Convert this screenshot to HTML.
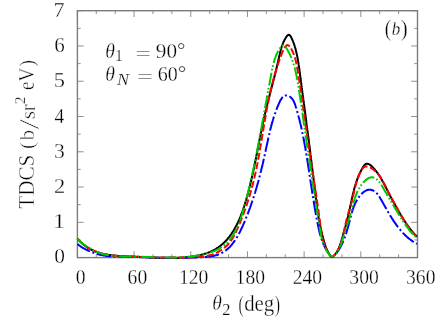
<!DOCTYPE html>
<html><head><meta charset="utf-8"><title>plot</title><style>
html,body{margin:0;padding:0;background:#fff;overflow:hidden;}
svg{display:block;}
svg{stroke-width:0.3px;}
text{font-family:"Liberation Serif",serif;font-size:20.0px;fill:#000;stroke:#fff;}
</style></head><body>
<svg width="436" height="319" viewBox="0 0 436 319">
<rect width="436" height="319" fill="#fff"/>
<g stroke="#7c7c7c" stroke-width="1.4" fill="none">
<rect x="77.4" y="10.7" width="340.10" height="246.90"/>
<path d="M77.40,257.6v-6.3M77.40,10.7v6.3M96.29,257.6v-3.3M96.29,10.7v3.3M115.19,257.6v-3.3M115.19,10.7v3.3M134.08,257.6v-6.3M134.08,10.7v6.3M152.98,257.6v-3.3M152.98,10.7v3.3M171.87,257.6v-3.3M171.87,10.7v3.3M190.77,257.6v-6.3M190.77,10.7v6.3M209.66,257.6v-3.3M209.66,10.7v3.3M228.56,257.6v-3.3M228.56,10.7v3.3M247.45,257.6v-6.3M247.45,10.7v6.3M266.34,257.6v-3.3M266.34,10.7v3.3M285.24,257.6v-3.3M285.24,10.7v3.3M304.13,257.6v-6.3M304.13,10.7v6.3M323.03,257.6v-3.3M323.03,10.7v3.3M341.92,257.6v-3.3M341.92,10.7v3.3M360.82,257.6v-6.3M360.82,10.7v6.3M379.71,257.6v-3.3M379.71,10.7v3.3M398.61,257.6v-3.3M398.61,10.7v3.3M417.50,257.6v-6.3M417.50,10.7v6.3M77.4,257.60h6.3M417.5,257.60h-6.3M77.4,239.96h3.3M417.5,239.96h-3.3M77.4,222.33h6.3M417.5,222.33h-6.3M77.4,204.69h3.3M417.5,204.69h-3.3M77.4,187.06h6.3M417.5,187.06h-6.3M77.4,169.42h3.3M417.5,169.42h-3.3M77.4,151.79h6.3M417.5,151.79h-6.3M77.4,134.15h3.3M417.5,134.15h-3.3M77.4,116.51h6.3M417.5,116.51h-6.3M77.4,98.88h3.3M417.5,98.88h-3.3M77.4,81.24h6.3M417.5,81.24h-6.3M77.4,63.61h3.3M417.5,63.61h-3.3M77.4,45.97h6.3M417.5,45.97h-6.3M77.4,28.34h3.3M417.5,28.34h-3.3M77.4,10.70h6.3M417.5,10.70h-6.3" stroke-width="0.85"/>
</g>
<g fill="none" stroke-width="2">
<path d="M77.5,238.6 L78.3,239.6 L79.1,240.5 L79.9,241.4 L80.8,242.2 L81.7,243.0 L82.5,243.8 L83.4,244.6 L84.3,245.3 L85.2,246.0 L86.2,246.7 L87.1,247.3 L88.0,247.9 L89.0,248.5 L90.0,249.0 L91.0,249.5 L91.9,250.0 L93.0,250.5 L94.0,250.9 L95.0,251.4 L96.0,251.7 L97.1,252.1 L98.1,252.5 L99.2,252.8 L100.2,253.1 L101.3,253.4 L102.4,253.7 L103.5,253.9 L104.6,254.2 L105.7,254.4 L106.8,254.6 L107.9,254.8 L109.0,255.0 L110.1,255.1 L111.3,255.3 L112.4,255.4 L113.5,255.5 L114.7,255.6 L115.8,255.7 L117.0,255.8 L118.1,255.9 L119.3,256.0 L120.4,256.1 L121.6,256.1 L122.7,256.2 L123.9,256.2 L125.0,256.3 L126.2,256.3 L127.4,256.4 L128.5,256.4 L129.7,256.5 L130.8,256.5 L132.0,256.5 L133.2,256.6 L134.3,256.6 L135.5,256.7 L136.6,256.7 L137.8,256.8 L138.9,256.8 L140.0,256.9 L141.2,256.9 L142.3,257.0 L143.5,257.1 L144.6,257.1 L145.7,257.2 L146.9,257.3 L148.0,257.3 L149.1,257.4 L150.3,257.4 L151.4,257.5 L152.5,257.6 L153.6,257.6 L154.8,257.7 L155.9,257.7 L157.0,257.8 L158.1,257.8 L159.3,257.9 L160.4,257.9 L161.5,258.0 L162.6,258.0 L163.8,258.0 L164.9,258.1 L166.0,258.1 L167.1,258.1 L168.3,258.1 L169.4,258.1 L170.5,258.1 L171.6,258.1 L172.8,258.1 L173.9,258.1 L175.0,258.0 L176.1,258.0 L177.3,258.0 L178.4,257.9 L179.5,257.9 L180.7,257.8 L181.8,257.7 L183.0,257.6 L184.1,257.5 L185.2,257.4 L186.4,257.3 L187.5,257.2 L188.7,257.1 L189.8,256.9 L191.0,256.8 L192.1,256.6 L193.3,256.4 L194.5,256.2 L195.6,256.0 L196.8,255.8 L197.9,255.6 L199.1,255.3 L200.2,255.0 L201.4,254.8 L202.5,254.5 L203.6,254.2 L204.7,253.8 L205.9,253.5 L207.0,253.1 L208.0,252.7 L209.1,252.3 L210.2,251.9 L211.2,251.4 L212.2,250.9 L213.2,250.4 L214.2,249.9 L215.2,249.4 L216.1,248.8 L217.0,248.2 L218.0,247.6 L218.8,247.0 L219.7,246.3 L220.6,245.7 L221.4,245.0 L222.3,244.3 L223.1,243.6 L223.9,242.8 L224.6,242.1 L225.4,241.3 L226.1,240.5 L226.9,239.7 L227.6,238.9 L228.3,238.0 L229.0,237.2 L229.7,236.3 L230.3,235.4 L231.0,234.5 L231.6,233.6 L232.2,232.6 L232.8,231.7 L233.4,230.8 L234.0,229.8 L234.6,228.8 L235.1,227.8 L235.7,226.8 L236.2,225.8 L236.8,224.8 L237.3,223.8 L237.8,222.7 L238.3,221.7 L238.7,220.6 L239.2,219.6 L239.7,218.5 L240.1,217.4 L240.6,216.3 L241.0,215.2 L241.4,214.1 L241.8,213.0 L242.3,211.9 L242.7,210.8 L243.0,209.7 L243.4,208.5 L243.8,207.4 L244.2,206.3 L244.5,205.2 L244.9,204.0 L245.3,202.9 L245.6,201.7 L245.9,200.6 L246.3,199.5 L246.6,198.3 L246.9,197.2 L247.2,196.0 L247.5,194.9 L247.9,193.8 L248.2,192.6 L248.5,191.5 L248.8,190.3 L249.0,189.2 L249.3,188.1 L249.6,186.9 L249.9,185.8 L250.2,184.7 L250.4,183.6 L250.7,182.4 L251.0,181.3 L251.2,180.2 L251.5,179.1 L251.8,178.0 L252.0,176.8 L252.3,175.7 L252.5,174.6 L252.8,173.5 L253.0,172.4 L253.2,171.3 L253.5,170.2 L253.7,169.1 L254.0,167.9 L254.2,166.8 L254.4,165.7 L254.7,164.6 L254.9,163.5 L255.1,162.4 L255.3,161.3 L255.6,160.2 L255.8,159.1 L256.0,158.0 L256.2,156.9 L256.4,155.8 L256.6,154.7 L256.9,153.6 L257.1,152.5 L257.3,151.4 L257.5,150.3 L257.7,149.2 L257.9,148.1 L258.1,147.0 L258.4,146.0 L258.6,144.9 L258.8,143.8 L259.0,142.7 L259.2,141.6 L259.4,140.5 L259.6,139.4 L259.9,138.3 L260.1,137.2 L260.3,136.1 L260.5,135.0 L260.7,134.0 L260.9,132.9 L261.2,131.8 L261.4,130.7 L261.6,129.6 L261.8,128.5 L262.0,127.4 L262.3,126.3 L262.5,125.2 L262.7,124.1 L263.0,123.1 L263.2,122.0 L263.4,120.9 L263.7,119.8 L263.9,118.7 L264.1,117.6 L264.4,116.5 L264.6,115.4 L264.9,114.3 L265.1,113.2 L265.4,112.1 L265.6,111.0 L265.9,110.0 L266.2,108.9 L266.4,107.8 L266.7,106.7 L267.0,105.6 L267.2,104.5 L267.5,103.4 L267.8,102.3 L268.1,101.2 L268.3,100.1 L268.6,99.0 L268.9,97.9 L269.2,96.8 L269.5,95.7 L269.8,94.6 L270.0,93.5 L270.3,92.4 L270.6,91.3 L270.9,90.2 L271.2,89.0 L271.5,87.9 L271.8,86.8 L272.1,85.7 L272.4,84.6 L272.6,83.5 L272.9,82.4 L273.2,81.3 L273.5,80.1 L273.8,79.0 L274.1,77.9 L274.4,76.8 L274.7,75.7 L274.9,74.5 L275.2,73.4 L275.5,72.3 L275.8,71.2 L276.1,70.0 L276.3,68.9 L276.6,67.8 L276.9,66.6 L277.1,65.5 L277.4,64.3 L277.7,63.2 L277.9,62.1 L278.2,60.9 L278.5,59.8 L278.7,58.6 L279.0,57.5 L279.2,56.3 L279.5,55.2 L279.8,54.0 L280.0,52.9 L280.3,51.8 L280.6,50.6 L280.9,49.5 L281.2,48.4 L281.5,47.3 L281.9,46.2 L282.3,45.1 L282.7,44.1 L283.1,43.0 L283.5,42.0 L284.0,41.0 L284.5,40.0 L285.1,39.0 L285.6,38.0 L286.2,37.1 L286.9,36.2 L287.5,35.4 L288.2,34.9 L288.9,34.7 L289.5,35.0 L290.1,35.6 L290.7,36.4 L291.2,37.4 L291.7,38.4 L292.2,39.5 L292.7,40.6 L293.1,41.7 L293.6,42.9 L294.0,44.0 L294.4,45.2 L294.7,46.3 L295.1,47.5 L295.4,48.6 L295.7,49.8 L296.0,50.9 L296.3,52.1 L296.6,53.2 L296.8,54.3 L297.1,55.5 L297.3,56.6 L297.5,57.7 L297.7,58.8 L297.9,60.0 L298.1,61.1 L298.3,62.2 L298.5,63.3 L298.6,64.4 L298.8,65.6 L299.0,66.7 L299.1,67.8 L299.3,68.9 L299.4,70.0 L299.6,71.1 L299.7,72.3 L299.9,73.4 L300.0,74.5 L300.2,75.6 L300.3,76.7 L300.5,77.9 L300.6,79.0 L300.8,80.1 L300.9,81.2 L301.1,82.3 L301.2,83.5 L301.4,84.6 L301.5,85.7 L301.7,86.8 L301.8,87.9 L302.0,89.1 L302.1,90.2 L302.3,91.3 L302.4,92.4 L302.6,93.6 L302.7,94.7 L302.9,95.8 L303.0,97.0 L303.2,98.1 L303.3,99.2 L303.5,100.3 L303.6,101.5 L303.8,102.6 L303.9,103.7 L304.1,104.8 L304.2,106.0 L304.4,107.1 L304.5,108.2 L304.7,109.4 L304.8,110.5 L305.0,111.6 L305.1,112.8 L305.3,113.9 L305.4,115.0 L305.6,116.1 L305.7,117.3 L305.9,118.4 L306.0,119.5 L306.2,120.7 L306.3,121.8 L306.4,122.9 L306.6,124.1 L306.7,125.2 L306.9,126.3 L307.0,127.5 L307.2,128.6 L307.3,129.7 L307.5,130.9 L307.6,132.0 L307.8,133.1 L307.9,134.3 L308.1,135.4 L308.2,136.5 L308.4,137.7 L308.5,138.8 L308.7,139.9 L308.8,141.1 L309.0,142.2 L309.1,143.3 L309.2,144.5 L309.4,145.6 L309.5,146.8 L309.7,147.9 L309.8,149.0 L310.0,150.2 L310.1,151.3 L310.3,152.4 L310.4,153.6 L310.5,154.7 L310.7,155.8 L310.8,157.0 L311.0,158.1 L311.1,159.2 L311.3,160.4 L311.4,161.5 L311.5,162.6 L311.7,163.8 L311.8,164.9 L312.0,166.0 L312.1,167.2 L312.2,168.3 L312.4,169.4 L312.5,170.6 L312.6,171.7 L312.8,172.8 L312.9,174.0 L313.1,175.1 L313.2,176.2 L313.3,177.4 L313.5,178.5 L313.6,179.6 L313.7,180.7 L313.9,181.9 L314.0,183.0 L314.1,184.1 L314.3,185.3 L314.4,186.4 L314.5,187.5 L314.7,188.7 L314.8,189.8 L315.0,190.9 L315.1,192.0 L315.2,193.2 L315.4,194.3 L315.5,195.4 L315.6,196.6 L315.8,197.7 L315.9,198.8 L316.1,199.9 L316.2,201.1 L316.4,202.2 L316.5,203.3 L316.7,204.4 L316.8,205.6 L317.0,206.7 L317.1,207.8 L317.3,208.9 L317.5,210.1 L317.6,211.2 L317.8,212.3 L318.0,213.4 L318.2,214.5 L318.4,215.7 L318.6,216.8 L318.7,217.9 L318.9,219.0 L319.1,220.1 L319.4,221.3 L319.6,222.4 L319.8,223.5 L320.0,224.6 L320.2,225.7 L320.5,226.9 L320.7,228.0 L320.9,229.1 L321.2,230.2 L321.4,231.3 L321.7,232.4 L322.0,233.5 L322.2,234.7 L322.5,235.8 L322.8,236.9 L323.1,238.0 L323.4,239.1 L323.7,240.2 L324.0,241.3 L324.3,242.4 L324.7,243.5 L325.0,244.6 L325.4,245.8 L325.8,246.9 L326.2,248.0 L326.6,249.0 L327.1,250.1 L327.6,251.2 L328.1,252.3 L328.7,253.4 L329.3,254.4 L329.9,255.3 L330.5,256.1 L331.2,256.5 L332.0,256.7 L332.8,256.5 L333.5,256.0 L334.3,255.3 L335.1,254.4 L335.9,253.4 L336.6,252.3 L337.2,251.3 L337.8,250.2 L338.4,249.1 L338.9,248.1 L339.3,247.0 L339.8,245.9 L340.1,244.8 L340.5,243.7 L340.9,242.6 L341.2,241.5 L341.5,240.4 L341.8,239.3 L342.1,238.2 L342.5,237.1 L342.8,236.0 L343.1,234.9 L343.4,233.8 L343.7,232.7 L344.0,231.6 L344.4,230.5 L344.7,229.4 L345.0,228.3 L345.3,227.2 L345.6,226.1 L345.9,225.0 L346.2,223.9 L346.5,222.8 L346.8,221.6 L347.1,220.5 L347.4,219.4 L347.6,218.3 L347.9,217.2 L348.2,216.1 L348.4,215.0 L348.7,213.9 L348.9,212.8 L349.1,211.7 L349.4,210.6 L349.6,209.5 L349.9,208.4 L350.1,207.3 L350.3,206.2 L350.5,205.1 L350.8,204.0 L351.0,202.9 L351.2,201.8 L351.5,200.7 L351.7,199.6 L351.9,198.5 L352.2,197.4 L352.4,196.3 L352.7,195.2 L352.9,194.1 L353.2,193.0 L353.5,191.9 L353.8,190.8 L354.0,189.7 L354.3,188.6 L354.6,187.5 L355.0,186.4 L355.3,185.3 L355.6,184.2 L356.0,183.1 L356.3,182.0 L356.7,180.9 L357.1,179.8 L357.5,178.7 L357.9,177.6 L358.4,176.5 L358.8,175.4 L359.3,174.4 L359.8,173.3 L360.3,172.2 L360.8,171.2 L361.3,170.1 L361.9,169.0 L362.5,168.0 L363.1,167.0 L363.7,166.1 L364.4,165.2 L365.1,164.5 L365.8,164.0 L366.6,163.7 L367.4,163.7 L368.3,163.9 L369.2,164.3 L370.1,164.9 L371.0,165.6 L371.9,166.4 L372.8,167.3 L373.7,168.3 L374.5,169.2 L375.3,170.2 L376.1,171.1 L376.8,172.1 L377.6,173.0 L378.2,174.0 L378.9,175.0 L379.5,176.0 L380.2,176.9 L380.8,177.9 L381.3,178.9 L381.9,179.9 L382.4,180.9 L383.0,181.9 L383.5,182.9 L384.0,183.9 L384.5,184.9 L385.0,185.9 L385.6,186.9 L386.1,187.9 L386.6,188.9 L387.1,189.9 L387.6,190.9 L388.1,191.9 L388.6,192.9 L389.1,193.9 L389.7,194.9 L390.2,195.9 L390.8,196.9 L391.3,198.0 L391.9,199.0 L392.4,200.0 L393.0,201.0 L393.5,202.0 L394.1,203.0 L394.6,204.0 L395.2,205.0 L395.7,206.0 L396.3,207.0 L396.9,208.0 L397.4,209.0 L398.0,210.0 L398.5,211.0 L399.1,212.0 L399.7,212.9 L400.2,213.9 L400.8,214.9 L401.4,215.9 L402.0,216.8 L402.6,217.8 L403.2,218.8 L403.7,219.7 L404.4,220.7 L405.0,221.6 L405.6,222.6 L406.2,223.5 L406.9,224.4 L407.5,225.3 L408.2,226.3 L408.8,227.2 L409.5,228.1 L410.2,229.0 L410.9,229.9 L411.6,230.8 L412.3,231.7 L413.1,232.5 L413.8,233.4 L414.6,234.3 L415.4,235.1 L416.2,236.0 L417.0,236.8" stroke="#000"/>
<path d="M77.5,244.1 L78.2,244.7 L79.0,245.2 L79.7,245.8 L80.5,246.3 L81.3,246.8 L82.0,247.3 L82.8,247.8 L83.6,248.3 L84.4,248.7 L85.2,249.2 L86.0,249.6 L86.9,250.0 L87.7,250.4 L88.5,250.8 L89.4,251.2 L90.2,251.6 L91.1,251.9 L91.9,252.3 L92.8,252.6 L93.7,252.9 L94.5,253.2 L95.4,253.5 L96.3,253.8 L97.2,254.0 L98.1,254.3 L99.0,254.5 L99.9,254.7 L100.8,254.9 L101.7,255.1 L102.6,255.3 L103.5,255.5 L104.5,255.6 L105.4,255.8 L106.3,255.9 L107.2,256.0 L108.2,256.1 L109.1,256.2 L110.0,256.3 L111.0,256.4 L111.9,256.4 L112.8,256.5 L113.8,256.5 L114.7,256.6 L115.7,256.6 L116.6,256.7 L117.5,256.7 L118.5,256.7 L119.4,256.7 L120.4,256.8 L121.3,256.8 L122.3,256.8 L123.2,256.8 L124.1,256.8 L125.1,256.8 L126.0,256.9 L126.9,256.9 L127.9,256.9 L128.8,256.9 L129.7,256.9 L130.7,256.9 L131.6,257.0 L132.5,257.0 L133.4,257.0 L134.4,257.0 L135.3,257.0 L136.2,257.1 L137.1,257.1 L138.0,257.1 L139.0,257.1 L139.9,257.1 L140.8,257.2 L141.7,257.2 L142.6,257.2 L143.6,257.2 L144.5,257.3 L145.4,257.3 L146.3,257.3 L147.2,257.3 L148.1,257.3 L149.0,257.4 L149.9,257.4 L150.9,257.4 L151.8,257.4 L152.7,257.5 L153.6,257.5 L154.5,257.5 L155.4,257.5 L156.3,257.5 L157.2,257.6 L158.2,257.6 L159.1,257.6 L160.0,257.6 L160.9,257.6 L161.8,257.6 L162.7,257.7 L163.6,257.7 L164.6,257.7 L165.5,257.7 L166.4,257.7 L167.3,257.7 L168.2,257.7 L169.1,257.7 L170.1,257.8 L171.0,257.8 L171.9,257.8 L172.8,257.8 L173.7,257.8 L174.7,257.8 L175.6,257.8 L176.5,257.8 L177.4,257.8 L178.4,257.8 L179.3,257.8 L180.2,257.8 L181.1,257.8 L182.1,257.8 L183.0,257.7 L183.9,257.7 L184.9,257.7 L185.8,257.7 L186.8,257.7 L187.7,257.7 L188.6,257.7 L189.6,257.6 L190.5,257.6 L191.5,257.6 L192.4,257.6 L193.4,257.5 L194.3,257.5 L195.3,257.5 L196.2,257.4 L197.2,257.4 L198.2,257.4 L199.1,257.3 L200.1,257.3 L201.1,257.2 L202.0,257.2 L203.0,257.1 L204.0,257.1 L204.9,257.0 L205.9,256.9 L206.8,256.8 L207.8,256.7 L208.7,256.6 L209.7,256.5 L210.6,256.4 L211.5,256.2 L212.5,256.0 L213.4,255.9 L214.3,255.7 L215.2,255.4 L216.0,255.2 L216.9,255.0 L217.8,254.7 L218.6,254.4 L219.4,254.1 L220.2,253.7 L221.0,253.3 L221.8,252.9 L222.6,252.5 L223.3,252.1 L224.1,251.6 L224.8,251.1 L225.5,250.6 L226.2,250.1 L226.9,249.6 L227.5,249.0 L228.2,248.4 L228.8,247.8 L229.5,247.2 L230.1,246.6 L230.7,245.9 L231.3,245.3 L231.8,244.6 L232.4,243.9 L233.0,243.2 L233.5,242.4 L234.1,241.7 L234.6,240.9 L235.1,240.2 L235.6,239.4 L236.1,238.6 L236.6,237.8 L237.1,237.0 L237.6,236.2 L238.1,235.4 L238.5,234.5 L239.0,233.7 L239.4,232.8 L239.9,232.0 L240.3,231.1 L240.7,230.3 L241.1,229.4 L241.5,228.5 L242.0,227.6 L242.4,226.8 L242.8,225.9 L243.1,225.0 L243.5,224.1 L243.9,223.2 L244.3,222.3 L244.7,221.4 L245.0,220.6 L245.4,219.7 L245.8,218.8 L246.1,217.9 L246.5,217.0 L246.8,216.1 L247.2,215.2 L247.5,214.3 L247.9,213.5 L248.2,212.6 L248.5,211.7 L248.9,210.8 L249.2,209.9 L249.5,209.0 L249.9,208.1 L250.2,207.3 L250.5,206.4 L250.8,205.5 L251.1,204.6 L251.4,203.7 L251.7,202.8 L252.0,202.0 L252.3,201.1 L252.6,200.2 L252.9,199.3 L253.2,198.4 L253.5,197.5 L253.8,196.7 L254.1,195.8 L254.3,194.9 L254.6,194.0 L254.9,193.1 L255.2,192.3 L255.4,191.4 L255.7,190.5 L256.0,189.6 L256.2,188.7 L256.5,187.8 L256.7,187.0 L257.0,186.1 L257.2,185.2 L257.5,184.3 L257.7,183.4 L258.0,182.5 L258.2,181.7 L258.5,180.8 L258.7,179.9 L258.9,179.0 L259.2,178.1 L259.4,177.2 L259.6,176.4 L259.9,175.5 L260.1,174.6 L260.3,173.7 L260.5,172.8 L260.8,171.9 L261.0,171.0 L261.2,170.2 L261.4,169.3 L261.6,168.4 L261.8,167.5 L262.1,166.6 L262.3,165.7 L262.5,164.8 L262.7,164.0 L262.9,163.1 L263.1,162.2 L263.3,161.3 L263.5,160.4 L263.7,159.5 L263.9,158.6 L264.1,157.7 L264.3,156.8 L264.5,155.9 L264.7,155.0 L264.9,154.2 L265.1,153.3 L265.3,152.4 L265.5,151.5 L265.7,150.6 L265.8,149.7 L266.0,148.8 L266.2,147.9 L266.4,147.0 L266.6,146.1 L266.8,145.2 L267.0,144.3 L267.2,143.4 L267.4,142.5 L267.6,141.6 L267.8,140.7 L268.0,139.8 L268.1,138.9 L268.3,138.0 L268.5,137.1 L268.8,136.2 L269.0,135.3 L269.2,134.4 L269.4,133.5 L269.6,132.6 L269.8,131.7 L270.0,130.8 L270.2,129.8 L270.5,128.9 L270.7,128.0 L270.9,127.1 L271.2,126.2 L271.4,125.3 L271.7,124.4 L271.9,123.5 L272.2,122.6 L272.4,121.7 L272.7,120.8 L273.0,119.8 L273.2,118.9 L273.5,118.0 L273.8,117.1 L274.1,116.2 L274.4,115.3 L274.7,114.4 L275.0,113.5 L275.4,112.5 L275.7,111.6 L276.0,110.7 L276.4,109.8 L276.7,108.9 L277.1,108.0 L277.4,107.0 L277.8,106.1 L278.2,105.2 L278.6,104.3 L279.0,103.4 L279.4,102.5 L279.8,101.6 L280.2,100.7 L280.7,99.8 L281.2,99.1 L281.7,98.3 L282.2,97.6 L282.7,97.0 L283.3,96.5 L283.9,96.1 L284.5,95.7 L285.1,95.5 L285.8,95.4 L286.6,95.4 L287.3,95.5 L288.1,95.7 L288.9,96.1 L289.6,96.5 L290.4,97.0 L291.0,97.6 L291.6,98.2 L292.2,98.9 L292.7,99.5 L293.1,100.3 L293.6,101.0 L293.9,101.8 L294.3,102.6 L294.6,103.5 L295.0,104.4 L295.3,105.2 L295.6,106.2 L295.9,107.1 L296.2,108.0 L296.5,109.0 L296.8,109.9 L297.0,110.9 L297.3,111.9 L297.6,112.9 L297.9,113.8 L298.1,114.8 L298.4,115.8 L298.6,116.7 L298.9,117.6 L299.1,118.6 L299.4,119.5 L299.6,120.4 L299.8,121.3 L300.0,122.3 L300.3,123.2 L300.5,124.1 L300.7,125.0 L300.9,125.8 L301.1,126.7 L301.3,127.6 L301.5,128.5 L301.7,129.4 L301.9,130.3 L302.1,131.2 L302.2,132.0 L302.4,132.9 L302.6,133.8 L302.8,134.7 L303.0,135.6 L303.2,136.5 L303.3,137.4 L303.5,138.3 L303.7,139.2 L303.8,140.1 L304.0,140.9 L304.2,141.8 L304.3,142.7 L304.5,143.6 L304.7,144.5 L304.8,145.4 L305.0,146.3 L305.2,147.2 L305.3,148.1 L305.5,149.0 L305.6,150.0 L305.8,150.9 L305.9,151.8 L306.1,152.7 L306.2,153.6 L306.4,154.5 L306.5,155.4 L306.7,156.3 L306.8,157.2 L307.0,158.1 L307.1,159.0 L307.3,160.0 L307.4,160.9 L307.6,161.8 L307.7,162.7 L307.9,163.6 L308.0,164.5 L308.1,165.4 L308.3,166.4 L308.4,167.3 L308.6,168.2 L308.7,169.1 L308.9,170.0 L309.0,170.9 L309.1,171.9 L309.3,172.8 L309.4,173.7 L309.5,174.6 L309.7,175.6 L309.8,176.5 L310.0,177.4 L310.1,178.3 L310.2,179.2 L310.4,180.2 L310.5,181.1 L310.7,182.0 L310.8,182.9 L310.9,183.9 L311.1,184.8 L311.2,185.7 L311.4,186.6 L311.5,187.5 L311.6,188.5 L311.8,189.4 L311.9,190.3 L312.1,191.2 L312.2,192.2 L312.3,193.1 L312.5,194.0 L312.6,194.9 L312.8,195.9 L312.9,196.8 L313.1,197.7 L313.2,198.6 L313.4,199.6 L313.5,200.5 L313.7,201.4 L313.8,202.3 L314.0,203.3 L314.1,204.2 L314.3,205.1 L314.4,206.0 L314.6,207.0 L314.7,207.9 L314.9,208.8 L315.1,209.7 L315.2,210.6 L315.4,211.6 L315.6,212.5 L315.7,213.4 L315.9,214.3 L316.1,215.3 L316.2,216.2 L316.4,217.1 L316.6,218.0 L316.7,218.9 L316.9,219.8 L317.1,220.8 L317.3,221.7 L317.5,222.6 L317.6,223.5 L317.8,224.4 L318.0,225.3 L318.2,226.3 L318.4,227.2 L318.6,228.1 L318.8,229.0 L319.0,229.9 L319.2,230.8 L319.4,231.7 L319.6,232.6 L319.9,233.5 L320.1,234.4 L320.4,235.3 L320.6,236.2 L320.9,237.1 L321.2,238.0 L321.5,238.9 L321.8,239.7 L322.1,240.6 L322.4,241.5 L322.7,242.4 L323.1,243.2 L323.4,244.1 L323.8,244.9 L324.2,245.8 L324.6,246.6 L325.0,247.5 L325.5,248.3 L326.0,249.1 L326.4,250.0 L326.9,250.8 L327.5,251.6 L328.0,252.4 L328.5,253.2 L329.1,253.9 L329.7,254.6 L330.3,255.3 L330.9,255.7 L331.6,256.1 L332.2,256.2 L332.8,256.2 L333.5,256.0 L334.1,255.6 L334.7,255.1 L335.3,254.5 L335.9,253.8 L336.5,253.0 L337.1,252.3 L337.6,251.5 L338.2,250.7 L338.7,249.9 L339.2,249.1 L339.7,248.3 L340.2,247.5 L340.6,246.7 L341.1,245.9 L341.5,245.0 L341.9,244.2 L342.3,243.3 L342.7,242.5 L343.1,241.6 L343.5,240.8 L343.8,239.9 L344.2,239.0 L344.5,238.1 L344.8,237.2 L345.2,236.4 L345.5,235.5 L345.8,234.6 L346.1,233.7 L346.4,232.8 L346.6,231.9 L346.9,230.9 L347.2,230.0 L347.5,229.1 L347.7,228.2 L348.0,227.3 L348.2,226.4 L348.5,225.5 L348.7,224.5 L348.9,223.6 L349.2,222.7 L349.4,221.8 L349.7,220.9 L349.9,220.0 L350.1,219.1 L350.4,218.2 L350.6,217.3 L350.8,216.4 L351.1,215.5 L351.3,214.6 L351.5,213.7 L351.8,212.8 L352.0,211.9 L352.3,211.0 L352.6,210.1 L352.9,209.3 L353.2,208.4 L353.5,207.5 L353.8,206.7 L354.1,205.8 L354.5,205.0 L354.8,204.2 L355.2,203.3 L355.6,202.5 L356.0,201.7 L356.5,200.9 L356.9,200.1 L357.4,199.3 L357.9,198.5 L358.4,197.7 L359.0,196.9 L359.6,196.2 L360.2,195.4 L360.9,194.7 L361.5,194.0 L362.2,193.3 L362.9,192.7 L363.6,192.1 L364.4,191.5 L365.2,191.0 L365.9,190.6 L366.7,190.3 L367.5,190.0 L368.3,189.8 L369.2,189.7 L370.0,189.7 L370.8,189.8 L371.6,190.0 L372.5,190.3 L373.3,190.7 L374.1,191.1 L374.8,191.6 L375.6,192.2 L376.3,192.8 L377.0,193.5 L377.6,194.2 L378.2,195.0 L378.7,195.8 L379.3,196.6 L379.8,197.4 L380.2,198.2 L380.7,199.1 L381.2,199.9 L381.7,200.7 L382.2,201.5 L382.6,202.4 L383.1,203.2 L383.6,204.0 L384.0,204.8 L384.5,205.7 L385.0,206.5 L385.4,207.3 L385.9,208.1 L386.4,209.0 L386.8,209.8 L387.3,210.6 L387.8,211.4 L388.2,212.2 L388.7,213.0 L389.2,213.8 L389.7,214.6 L390.1,215.4 L390.6,216.2 L391.1,217.0 L391.6,217.8 L392.1,218.6 L392.6,219.3 L393.1,220.1 L393.6,220.9 L394.1,221.6 L394.6,222.4 L395.1,223.2 L395.7,223.9 L396.2,224.6 L396.7,225.4 L397.3,226.1 L397.8,226.8 L398.4,227.6 L398.9,228.3 L399.5,229.0 L400.1,229.7 L400.7,230.4 L401.3,231.1 L401.9,231.7 L402.5,232.4 L403.1,233.1 L403.7,233.7 L404.4,234.4 L405.0,235.0 L405.7,235.7 L406.4,236.3 L407.0,236.9 L407.7,237.5 L408.4,238.1 L409.2,238.7 L409.9,239.3 L410.6,239.8 L411.4,240.4 L412.1,240.9 L412.9,241.5 L413.7,242.0 L414.5,242.5 L415.3,243.0 L416.2,243.5 L417.0,244.0" stroke="#0000ff" stroke-dasharray="14.5 2.6 2 2.6"/>
<path d="M77.5,238.6 L78.3,239.5 L79.1,240.4 L80.0,241.2 L80.8,242.0 L81.6,242.8 L82.5,243.6 L83.4,244.3 L84.3,245.0 L85.2,245.6 L86.1,246.3 L87.0,246.9 L87.9,247.5 L88.8,248.1 L89.8,248.6 L90.7,249.1 L91.7,249.6 L92.7,250.1 L93.7,250.6 L94.6,251.0 L95.6,251.4 L96.6,251.8 L97.6,252.1 L98.7,252.5 L99.7,252.8 L100.7,253.1 L101.8,253.4 L102.8,253.7 L103.8,254.0 L104.9,254.2 L106.0,254.5 L107.0,254.7 L108.1,254.9 L109.2,255.1 L110.3,255.2 L111.3,255.4 L112.4,255.5 L113.5,255.7 L114.6,255.8 L115.7,255.9 L116.8,256.0 L117.9,256.1 L119.1,256.2 L120.2,256.3 L121.3,256.4 L122.4,256.5 L123.5,256.5 L124.7,256.6 L125.8,256.6 L126.9,256.7 L128.0,256.7 L129.2,256.7 L130.3,256.8 L131.4,256.8 L132.6,256.8 L133.7,256.9 L134.8,256.9 L135.9,256.9 L137.1,256.9 L138.2,257.0 L139.3,257.0 L140.5,257.0 L141.6,257.1 L142.7,257.1 L143.9,257.1 L145.0,257.1 L146.1,257.2 L147.2,257.2 L148.4,257.2 L149.5,257.2 L150.6,257.2 L151.7,257.3 L152.9,257.3 L154.0,257.3 L155.1,257.3 L156.2,257.3 L157.3,257.4 L158.5,257.4 L159.6,257.4 L160.7,257.4 L161.8,257.4 L162.9,257.4 L164.0,257.4 L165.2,257.5 L166.3,257.5 L167.4,257.5 L168.5,257.5 L169.6,257.5 L170.7,257.5 L171.8,257.5 L172.9,257.5 L174.1,257.5 L175.2,257.5 L176.3,257.5 L177.4,257.5 L178.5,257.5 L179.6,257.5 L180.7,257.5 L181.8,257.5 L182.9,257.5 L184.0,257.4 L185.1,257.4 L186.2,257.4 L187.3,257.4 L188.4,257.4 L189.4,257.4 L190.5,257.3 L191.6,257.3 L192.7,257.3 L193.8,257.2 L194.9,257.2 L196.0,257.2 L197.1,257.1 L198.1,257.1 L199.2,257.0 L200.3,256.9 L201.4,256.8 L202.5,256.7 L203.5,256.6 L204.6,256.4 L205.7,256.2 L206.7,256.0 L207.8,255.8 L208.9,255.5 L209.9,255.3 L211.0,254.9 L212.1,254.6 L213.1,254.2 L214.2,253.8 L215.2,253.3 L216.3,252.9 L217.3,252.4 L218.3,251.8 L219.3,251.2 L220.3,250.7 L221.3,250.0 L222.3,249.4 L223.2,248.7 L224.1,248.0 L225.0,247.3 L225.8,246.5 L226.7,245.7 L227.5,245.0 L228.2,244.1 L229.0,243.3 L229.7,242.5 L230.3,241.6 L231.0,240.7 L231.6,239.8 L232.2,238.9 L232.8,238.0 L233.3,237.0 L233.9,236.1 L234.4,235.1 L234.9,234.1 L235.4,233.1 L235.9,232.1 L236.4,231.1 L236.8,230.1 L237.3,229.1 L237.7,228.1 L238.2,227.1 L238.6,226.1 L239.0,225.0 L239.4,224.0 L239.9,223.0 L240.3,221.9 L240.7,220.9 L241.1,219.8 L241.5,218.8 L242.0,217.8 L242.4,216.7 L242.8,215.7 L243.2,214.6 L243.6,213.6 L244.0,212.5 L244.3,211.5 L244.7,210.4 L245.1,209.3 L245.5,208.3 L245.9,207.2 L246.2,206.2 L246.6,205.1 L247.0,204.0 L247.3,203.0 L247.7,201.9 L248.0,200.8 L248.3,199.8 L248.7,198.7 L249.0,197.6 L249.3,196.6 L249.7,195.5 L250.0,194.4 L250.3,193.3 L250.6,192.3 L250.9,191.2 L251.2,190.1 L251.5,189.1 L251.8,188.0 L252.1,186.9 L252.4,185.8 L252.7,184.8 L252.9,183.7 L253.2,182.6 L253.5,181.5 L253.7,180.4 L254.0,179.4 L254.2,178.3 L254.5,177.2 L254.7,176.1 L255.0,175.1 L255.2,174.0 L255.5,172.9 L255.7,171.8 L255.9,170.7 L256.2,169.7 L256.4,168.6 L256.6,167.5 L256.8,166.4 L257.0,165.3 L257.3,164.3 L257.5,163.2 L257.7,162.1 L257.9,161.0 L258.1,159.9 L258.3,158.8 L258.5,157.8 L258.7,156.7 L258.9,155.6 L259.1,154.5 L259.3,153.4 L259.5,152.3 L259.7,151.2 L259.9,150.2 L260.0,149.1 L260.2,148.0 L260.4,146.9 L260.6,145.8 L260.8,144.7 L261.0,143.6 L261.2,142.6 L261.3,141.5 L261.5,140.4 L261.7,139.3 L261.9,138.2 L262.1,137.1 L262.2,136.0 L262.4,134.9 L262.6,133.8 L262.8,132.8 L263.0,131.7 L263.1,130.6 L263.3,129.5 L263.5,128.4 L263.7,127.3 L263.9,126.2 L264.0,125.1 L264.2,124.0 L264.4,123.0 L264.6,121.9 L264.8,120.8 L265.0,119.7 L265.2,118.6 L265.4,117.5 L265.5,116.4 L265.7,115.3 L265.9,114.2 L266.1,113.1 L266.3,112.0 L266.5,110.9 L266.7,109.9 L266.9,108.8 L267.1,107.7 L267.3,106.6 L267.6,105.5 L267.8,104.4 L268.0,103.3 L268.2,102.2 L268.4,101.1 L268.6,100.0 L268.9,98.9 L269.1,97.8 L269.3,96.8 L269.6,95.7 L269.8,94.6 L270.0,93.5 L270.3,92.4 L270.5,91.3 L270.8,90.2 L271.0,89.1 L271.3,88.0 L271.6,86.9 L271.8,85.8 L272.1,84.7 L272.4,83.7 L272.6,82.6 L272.9,81.5 L273.2,80.4 L273.5,79.3 L273.8,78.2 L274.1,77.1 L274.4,76.0 L274.7,74.9 L275.0,73.8 L275.3,72.7 L275.7,71.6 L276.0,70.6 L276.3,69.5 L276.7,68.4 L277.0,67.3 L277.4,66.2 L277.7,65.1 L278.1,64.0 L278.4,62.9 L278.8,61.8 L279.2,60.7 L279.6,59.7 L280.0,58.6 L280.4,57.5 L280.8,56.4 L281.2,55.3 L281.6,54.2 L282.0,53.1 L282.4,52.1 L282.9,51.0 L283.4,50.0 L283.8,49.1 L284.3,48.2 L284.8,47.3 L285.3,46.6 L285.9,45.9 L286.5,45.4 L287.1,45.1 L287.7,45.0 L288.3,45.3 L289.0,45.8 L289.7,46.5 L290.3,47.4 L291.0,48.4 L291.6,49.5 L292.1,50.6 L292.7,51.7 L293.2,52.8 L293.6,53.9 L294.0,55.0 L294.4,56.1 L294.8,57.2 L295.1,58.3 L295.4,59.3 L295.7,60.4 L296.0,61.5 L296.2,62.6 L296.4,63.7 L296.7,64.8 L296.9,65.9 L297.1,67.0 L297.2,68.1 L297.4,69.2 L297.6,70.3 L297.8,71.4 L298.0,72.5 L298.1,73.6 L298.3,74.7 L298.5,75.8 L298.7,76.9 L298.8,78.0 L299.0,79.1 L299.2,80.1 L299.3,81.2 L299.5,82.3 L299.7,83.4 L299.8,84.5 L300.0,85.6 L300.2,86.7 L300.3,87.8 L300.5,88.9 L300.6,90.0 L300.8,91.1 L301.0,92.2 L301.1,93.3 L301.3,94.4 L301.4,95.5 L301.6,96.6 L301.8,97.7 L301.9,98.8 L302.1,99.9 L302.2,101.0 L302.4,102.1 L302.5,103.2 L302.7,104.3 L302.8,105.4 L303.0,106.5 L303.1,107.6 L303.3,108.7 L303.4,109.8 L303.6,110.9 L303.7,112.0 L303.9,113.1 L304.1,114.2 L304.2,115.3 L304.4,116.4 L304.5,117.5 L304.7,118.6 L304.8,119.7 L305.0,120.8 L305.1,121.9 L305.3,123.0 L305.4,124.1 L305.6,125.2 L305.7,126.3 L305.9,127.4 L306.1,128.5 L306.2,129.6 L306.4,130.7 L306.5,131.8 L306.7,132.9 L306.9,134.0 L307.0,135.1 L307.2,136.2 L307.3,137.3 L307.5,138.4 L307.7,139.5 L307.8,140.6 L308.0,141.7 L308.2,142.8 L308.3,143.9 L308.5,145.0 L308.7,146.1 L308.8,147.2 L309.0,148.3 L309.2,149.4 L309.3,150.5 L309.5,151.6 L309.7,152.7 L309.8,153.8 L310.0,154.9 L310.2,156.0 L310.3,157.1 L310.5,158.2 L310.7,159.3 L310.9,160.4 L311.0,161.5 L311.2,162.6 L311.4,163.6 L311.5,164.7 L311.7,165.8 L311.9,166.9 L312.0,168.0 L312.2,169.1 L312.4,170.2 L312.6,171.3 L312.7,172.4 L312.9,173.5 L313.1,174.6 L313.2,175.7 L313.4,176.8 L313.6,177.9 L313.8,179.0 L313.9,180.1 L314.1,181.2 L314.3,182.3 L314.4,183.4 L314.6,184.5 L314.8,185.6 L314.9,186.7 L315.1,187.8 L315.3,188.9 L315.4,190.0 L315.6,191.1 L315.8,192.2 L315.9,193.3 L316.1,194.4 L316.3,195.5 L316.4,196.6 L316.6,197.7 L316.7,198.8 L316.9,199.9 L317.1,201.0 L317.2,202.1 L317.4,203.2 L317.5,204.3 L317.7,205.4 L317.9,206.5 L318.0,207.6 L318.2,208.7 L318.3,209.8 L318.5,210.9 L318.6,212.0 L318.8,213.1 L318.9,214.2 L319.1,215.3 L319.2,216.4 L319.4,217.5 L319.5,218.6 L319.7,219.7 L319.8,220.8 L320.0,221.9 L320.1,223.0 L320.2,224.1 L320.4,225.2 L320.5,226.3 L320.7,227.5 L320.8,228.6 L321.0,229.7 L321.1,230.8 L321.3,231.9 L321.5,233.0 L321.7,234.1 L321.9,235.2 L322.1,236.3 L322.3,237.3 L322.5,238.4 L322.8,239.5 L323.1,240.6 L323.4,241.7 L323.7,242.7 L324.1,243.8 L324.4,244.9 L324.8,245.9 L325.3,247.0 L325.7,248.0 L326.2,249.1 L326.7,250.1 L327.3,251.1 L327.9,252.2 L328.5,253.2 L329.2,254.1 L329.9,255.0 L330.6,255.8 L331.4,256.3 L332.1,256.5 L332.8,256.4 L333.6,256.1 L334.3,255.5 L335.0,254.8 L335.7,253.9 L336.4,252.9 L337.0,251.9 L337.6,250.9 L338.1,249.9 L338.7,248.8 L339.2,247.7 L339.6,246.7 L340.1,245.6 L340.5,244.5 L340.9,243.4 L341.2,242.2 L341.6,241.1 L341.9,240.0 L342.2,238.9 L342.5,237.8 L342.7,236.8 L343.0,235.7 L343.3,234.6 L343.5,233.6 L343.7,232.5 L344.0,231.4 L344.2,230.4 L344.4,229.3 L344.6,228.3 L344.8,227.2 L345.1,226.2 L345.3,225.1 L345.5,224.1 L345.8,223.0 L346.0,221.9 L346.3,220.9 L346.5,219.8 L346.8,218.7 L347.1,217.6 L347.4,216.5 L347.7,215.3 L348.1,214.2 L348.4,213.1 L348.7,211.9 L349.1,210.8 L349.4,209.7 L349.8,208.6 L350.1,207.4 L350.5,206.3 L350.8,205.2 L351.1,204.2 L351.4,203.1 L351.7,202.1 L351.9,201.0 L352.2,200.0 L352.4,199.0 L352.6,198.0 L352.9,197.0 L353.1,196.0 L353.3,195.0 L353.5,194.1 L353.8,193.1 L354.0,192.1 L354.2,191.1 L354.4,190.1 L354.7,189.1 L354.9,188.0 L355.2,187.0 L355.4,185.9 L355.7,184.9 L356.0,183.8 L356.4,182.6 L356.7,181.5 L357.1,180.3 L357.5,179.1 L357.9,177.9 L358.3,176.6 L358.8,175.3 L359.3,174.1 L359.8,172.9 L360.4,171.7 L361.0,170.6 L361.7,169.6 L362.3,168.7 L363.1,167.9 L363.8,167.3 L364.7,166.8 L365.5,166.6 L366.4,166.5 L367.4,166.5 L368.3,166.7 L369.3,167.1 L370.3,167.5 L371.3,168.0 L372.2,168.7 L373.2,169.4 L374.1,170.1 L375.0,170.9 L375.8,171.6 L376.6,172.4 L377.4,173.2 L378.1,174.1 L378.8,174.9 L379.5,175.7 L380.1,176.6 L380.7,177.5 L381.3,178.3 L381.8,179.2 L382.3,180.1 L382.9,181.1 L383.3,182.0 L383.8,182.9 L384.3,183.8 L384.8,184.8 L385.3,185.7 L385.7,186.7 L386.2,187.7 L386.7,188.6 L387.1,189.6 L387.6,190.6 L388.1,191.6 L388.6,192.6 L389.1,193.6 L389.7,194.6 L390.2,195.6 L390.7,196.6 L391.3,197.6 L391.8,198.6 L392.4,199.6 L392.9,200.6 L393.5,201.7 L394.0,202.7 L394.6,203.7 L395.1,204.7 L395.7,205.7 L396.2,206.7 L396.8,207.7 L397.3,208.8 L397.9,209.8 L398.4,210.8 L399.0,211.8 L399.5,212.8 L400.1,213.8 L400.6,214.8 L401.2,215.7 L401.8,216.7 L402.3,217.7 L402.9,218.7 L403.5,219.6 L404.0,220.6 L404.6,221.5 L405.2,222.5 L405.8,223.4 L406.4,224.3 L407.1,225.2 L407.7,226.1 L408.3,227.0 L409.0,227.9 L409.6,228.8 L410.3,229.6 L411.0,230.5 L411.7,231.3 L412.4,232.1 L413.1,233.0 L413.9,233.7 L414.6,234.5 L415.4,235.3 L416.2,236.1 L417.0,236.8" stroke="#ff0000" stroke-dasharray="7 2.6"/>
<path d="M77.5,238.6 L78.3,239.4 L79.0,240.2 L79.8,241.0 L80.6,241.7 L81.4,242.5 L82.3,243.2 L83.1,243.9 L83.9,244.6 L84.8,245.2 L85.7,245.9 L86.6,246.5 L87.5,247.1 L88.4,247.7 L89.3,248.2 L90.2,248.8 L91.1,249.3 L92.1,249.8 L93.0,250.3 L94.0,250.7 L95.0,251.2 L96.0,251.6 L96.9,252.0 L97.9,252.4 L98.9,252.7 L100.0,253.1 L101.0,253.4 L102.0,253.7 L103.0,254.0 L104.1,254.2 L105.1,254.5 L106.2,254.7 L107.2,254.9 L108.3,255.1 L109.3,255.3 L110.4,255.4 L111.5,255.6 L112.6,255.7 L113.6,255.8 L114.7,255.9 L115.8,256.0 L116.9,256.1 L118.0,256.2 L119.1,256.2 L120.2,256.3 L121.3,256.3 L122.4,256.4 L123.5,256.4 L124.6,256.4 L125.7,256.5 L126.8,256.5 L127.9,256.5 L129.0,256.5 L130.1,256.5 L131.2,256.5 L132.3,256.6 L133.4,256.6 L134.5,256.6 L135.6,256.6 L136.6,256.6 L137.7,256.7 L138.8,256.7 L139.9,256.7 L141.0,256.8 L142.1,256.8 L143.1,256.8 L144.2,256.9 L145.3,256.9 L146.4,257.0 L147.4,257.0 L148.5,257.1 L149.6,257.1 L150.7,257.1 L151.7,257.2 L152.8,257.2 L153.9,257.3 L154.9,257.3 L156.0,257.3 L157.1,257.4 L158.1,257.4 L159.2,257.5 L160.3,257.5 L161.3,257.5 L162.4,257.5 L163.5,257.6 L164.5,257.6 L165.6,257.6 L166.7,257.6 L167.7,257.6 L168.8,257.6 L169.9,257.6 L170.9,257.6 L172.0,257.6 L173.1,257.6 L174.1,257.6 L175.2,257.6 L176.3,257.5 L177.4,257.5 L178.4,257.5 L179.5,257.4 L180.6,257.4 L181.7,257.3 L182.8,257.2 L183.8,257.2 L184.9,257.1 L186.0,257.0 L187.1,256.9 L188.2,256.8 L189.3,256.7 L190.4,256.5 L191.5,256.4 L192.6,256.3 L193.7,256.1 L194.8,255.9 L195.9,255.8 L197.0,255.6 L198.1,255.4 L199.2,255.2 L200.3,255.0 L201.4,254.7 L202.5,254.5 L203.6,254.3 L204.7,254.0 L205.8,253.7 L206.8,253.4 L207.9,253.1 L208.9,252.8 L209.9,252.5 L211.0,252.2 L212.0,251.8 L213.0,251.4 L213.9,251.1 L214.9,250.7 L215.9,250.3 L216.8,249.8 L217.7,249.4 L218.6,248.9 L219.5,248.4 L220.4,247.9 L221.2,247.4 L222.1,246.8 L222.9,246.2 L223.7,245.6 L224.5,245.0 L225.3,244.3 L226.1,243.6 L226.9,242.9 L227.6,242.2 L228.3,241.4 L229.0,240.6 L229.7,239.7 L230.4,238.9 L231.0,238.0 L231.7,237.1 L232.3,236.2 L232.9,235.3 L233.5,234.3 L234.1,233.4 L234.7,232.4 L235.2,231.4 L235.7,230.4 L236.2,229.4 L236.7,228.4 L237.2,227.4 L237.7,226.3 L238.1,225.3 L238.6,224.3 L239.0,223.3 L239.4,222.2 L239.7,221.2 L240.1,220.2 L240.5,219.1 L240.8,218.1 L241.2,217.1 L241.5,216.0 L241.8,215.0 L242.1,214.0 L242.4,212.9 L242.7,211.9 L243.0,210.8 L243.3,209.8 L243.6,208.8 L243.9,207.7 L244.2,206.7 L244.5,205.6 L244.8,204.6 L245.1,203.5 L245.4,202.5 L245.7,201.5 L246.0,200.4 L246.2,199.4 L246.5,198.3 L246.8,197.3 L247.1,196.2 L247.3,195.2 L247.6,194.1 L247.9,193.1 L248.1,192.0 L248.4,191.0 L248.6,189.9 L248.9,188.9 L249.1,187.8 L249.4,186.8 L249.7,185.7 L249.9,184.7 L250.2,183.6 L250.4,182.6 L250.6,181.5 L250.9,180.5 L251.1,179.4 L251.4,178.4 L251.6,177.3 L251.8,176.2 L252.1,175.2 L252.3,174.1 L252.5,173.1 L252.8,172.0 L253.0,171.0 L253.2,169.9 L253.4,168.8 L253.7,167.8 L253.9,166.7 L254.1,165.7 L254.3,164.6 L254.5,163.6 L254.8,162.5 L255.0,161.4 L255.2,160.4 L255.4,159.3 L255.6,158.3 L255.8,157.2 L256.0,156.2 L256.3,155.1 L256.5,154.0 L256.7,153.0 L256.9,151.9 L257.1,150.9 L257.3,149.8 L257.5,148.7 L257.7,147.7 L257.9,146.6 L258.1,145.6 L258.3,144.5 L258.5,143.5 L258.7,142.4 L258.9,141.3 L259.1,140.3 L259.3,139.2 L259.5,138.2 L259.7,137.1 L259.9,136.0 L260.1,135.0 L260.3,133.9 L260.5,132.9 L260.7,131.8 L260.9,130.8 L261.1,129.7 L261.3,128.6 L261.5,127.6 L261.7,126.5 L261.9,125.5 L262.0,124.4 L262.2,123.3 L262.4,122.3 L262.6,121.2 L262.8,120.2 L263.0,119.1 L263.2,118.0 L263.4,117.0 L263.6,115.9 L263.8,114.9 L264.0,113.8 L264.2,112.7 L264.3,111.7 L264.5,110.6 L264.7,109.6 L264.9,108.5 L265.1,107.4 L265.3,106.4 L265.5,105.3 L265.7,104.3 L265.9,103.2 L266.1,102.1 L266.3,101.1 L266.5,100.0 L266.7,98.9 L266.8,97.9 L267.0,96.8 L267.2,95.7 L267.4,94.7 L267.6,93.6 L267.8,92.6 L268.0,91.5 L268.2,90.4 L268.4,89.4 L268.6,88.3 L268.8,87.2 L269.0,86.2 L269.2,85.1 L269.4,84.0 L269.6,83.0 L269.8,81.9 L270.0,80.8 L270.2,79.8 L270.4,78.7 L270.6,77.6 L270.8,76.6 L271.0,75.5 L271.2,74.4 L271.4,73.4 L271.6,72.3 L271.8,71.2 L272.0,70.1 L272.2,69.1 L272.5,68.0 L272.7,66.9 L272.9,65.9 L273.2,64.8 L273.4,63.7 L273.7,62.6 L274.0,61.6 L274.3,60.5 L274.6,59.4 L275.0,58.3 L275.4,57.3 L275.8,56.2 L276.2,55.1 L276.7,54.0 L277.2,53.0 L277.7,51.9 L278.3,50.9 L278.9,49.9 L279.5,48.9 L280.1,48.0 L280.8,47.2 L281.4,46.5 L282.1,46.0 L282.7,45.6 L283.4,45.4 L284.0,45.5 L284.6,45.9 L285.3,46.5 L285.9,47.3 L286.5,48.2 L287.0,49.1 L287.6,50.1 L288.1,51.0 L288.6,52.0 L289.1,52.9 L289.6,53.9 L290.1,54.9 L290.5,55.9 L291.0,56.9 L291.4,57.9 L291.8,58.9 L292.1,59.9 L292.5,60.9 L292.9,61.9 L293.2,62.9 L293.5,64.0 L293.9,65.0 L294.2,66.0 L294.5,67.1 L294.7,68.1 L295.0,69.2 L295.3,70.2 L295.5,71.3 L295.8,72.3 L296.0,73.4 L296.2,74.4 L296.5,75.5 L296.7,76.6 L296.9,77.6 L297.1,78.7 L297.3,79.8 L297.5,80.8 L297.6,81.9 L297.8,83.0 L298.0,84.0 L298.2,85.1 L298.4,86.2 L298.5,87.3 L298.7,88.3 L298.9,89.4 L299.0,90.5 L299.2,91.6 L299.4,92.6 L299.5,93.7 L299.7,94.8 L299.9,95.9 L300.0,96.9 L300.2,98.0 L300.4,99.1 L300.5,100.2 L300.7,101.2 L300.8,102.3 L301.0,103.4 L301.2,104.4 L301.3,105.5 L301.5,106.6 L301.6,107.7 L301.8,108.7 L301.9,109.8 L302.1,110.9 L302.3,112.0 L302.4,113.0 L302.6,114.1 L302.7,115.2 L302.9,116.2 L303.0,117.3 L303.2,118.4 L303.3,119.5 L303.5,120.5 L303.6,121.6 L303.8,122.7 L303.9,123.7 L304.1,124.8 L304.2,125.9 L304.4,127.0 L304.5,128.0 L304.7,129.1 L304.9,130.2 L305.0,131.2 L305.2,132.3 L305.3,133.4 L305.5,134.4 L305.6,135.5 L305.8,136.6 L305.9,137.7 L306.1,138.7 L306.2,139.8 L306.4,140.9 L306.5,141.9 L306.7,143.0 L306.9,144.1 L307.0,145.1 L307.2,146.2 L307.3,147.3 L307.5,148.4 L307.6,149.4 L307.8,150.5 L308.0,151.6 L308.1,152.6 L308.3,153.7 L308.4,154.8 L308.6,155.8 L308.8,156.9 L308.9,158.0 L309.1,159.0 L309.2,160.1 L309.4,161.2 L309.6,162.2 L309.7,163.3 L309.9,164.4 L310.0,165.4 L310.2,166.5 L310.4,167.6 L310.5,168.6 L310.7,169.7 L310.9,170.8 L311.0,171.8 L311.2,172.9 L311.3,174.0 L311.5,175.0 L311.7,176.1 L311.8,177.2 L312.0,178.2 L312.2,179.3 L312.3,180.4 L312.5,181.4 L312.7,182.5 L312.8,183.6 L313.0,184.6 L313.1,185.7 L313.3,186.8 L313.5,187.8 L313.6,188.9 L313.8,190.0 L314.0,191.0 L314.1,192.1 L314.3,193.2 L314.5,194.2 L314.6,195.3 L314.8,196.4 L315.0,197.4 L315.1,198.5 L315.3,199.6 L315.5,200.6 L315.6,201.7 L315.8,202.7 L316.0,203.8 L316.1,204.9 L316.3,205.9 L316.5,207.0 L316.6,208.1 L316.8,209.1 L317.0,210.2 L317.1,211.3 L317.3,212.3 L317.5,213.4 L317.6,214.4 L317.8,215.5 L318.0,216.6 L318.1,217.6 L318.3,218.7 L318.5,219.8 L318.6,220.8 L318.8,221.9 L318.9,222.9 L319.1,224.0 L319.3,225.1 L319.4,226.1 L319.6,227.2 L319.8,228.3 L320.0,229.3 L320.2,230.4 L320.3,231.5 L320.5,232.5 L320.8,233.6 L321.0,234.7 L321.2,235.8 L321.5,236.9 L321.7,238.0 L322.0,239.1 L322.3,240.2 L322.6,241.3 L323.0,242.4 L323.4,243.5 L323.7,244.6 L324.1,245.7 L324.6,246.8 L325.0,247.8 L325.5,248.9 L326.1,249.9 L326.6,250.8 L327.2,251.8 L327.8,252.7 L328.5,253.5 L329.1,254.3 L329.8,255.0 L330.6,255.5 L331.3,255.9 L332.1,256.1 L332.8,256.1 L333.6,255.9 L334.3,255.4 L335.0,254.9 L335.7,254.2 L336.4,253.4 L337.0,252.6 L337.6,251.7 L338.2,250.8 L338.7,249.8 L339.2,248.8 L339.7,247.8 L340.1,246.8 L340.5,245.7 L340.9,244.7 L341.3,243.6 L341.7,242.5 L342.0,241.4 L342.4,240.2 L342.7,239.1 L343.0,238.0 L343.4,236.9 L343.7,235.8 L344.0,234.7 L344.3,233.6 L344.7,232.5 L345.0,231.5 L345.3,230.5 L345.6,229.5 L346.0,228.4 L346.3,227.4 L346.6,226.5 L347.0,225.5 L347.3,224.5 L347.6,223.5 L348.0,222.5 L348.3,221.5 L348.6,220.5 L348.9,219.5 L349.2,218.5 L349.5,217.5 L349.8,216.5 L350.1,215.5 L350.4,214.4 L350.6,213.4 L350.9,212.3 L351.2,211.3 L351.5,210.2 L351.7,209.1 L352.0,208.1 L352.3,207.0 L352.6,205.9 L352.9,204.8 L353.2,203.8 L353.5,202.7 L353.8,201.6 L354.1,200.6 L354.4,199.5 L354.8,198.4 L355.1,197.4 L355.5,196.4 L355.9,195.3 L356.3,194.3 L356.7,193.3 L357.1,192.3 L357.6,191.3 L358.1,190.4 L358.6,189.4 L359.1,188.5 L359.6,187.5 L360.2,186.6 L360.8,185.7 L361.4,184.9 L362.1,184.0 L362.8,183.2 L363.5,182.4 L364.2,181.6 L365.0,180.8 L365.8,180.1 L366.7,179.4 L367.5,178.8 L368.4,178.2 L369.4,177.8 L370.3,177.4 L371.2,177.3 L372.1,177.3 L373.1,177.4 L374.0,177.7 L374.9,178.2 L375.7,178.7 L376.6,179.3 L377.4,180.0 L378.2,180.8 L378.9,181.6 L379.7,182.4 L380.3,183.3 L381.0,184.3 L381.6,185.3 L382.2,186.2 L382.8,187.2 L383.4,188.2 L383.9,189.2 L384.5,190.2 L385.0,191.2 L385.6,192.2 L386.1,193.1 L386.7,194.1 L387.2,195.0 L387.8,195.9 L388.3,196.8 L388.8,197.7 L389.4,198.6 L389.9,199.5 L390.4,200.4 L391.0,201.3 L391.5,202.2 L392.1,203.1 L392.6,204.0 L393.1,204.9 L393.7,205.8 L394.2,206.7 L394.8,207.7 L395.3,208.6 L395.9,209.5 L396.4,210.4 L397.0,211.3 L397.5,212.3 L398.1,213.2 L398.6,214.1 L399.2,215.1 L399.8,216.0 L400.3,216.9 L400.9,217.9 L401.5,218.8 L402.1,219.7 L402.7,220.7 L403.3,221.6 L403.9,222.5 L404.5,223.4 L405.1,224.3 L405.8,225.2 L406.4,226.1 L407.0,227.0 L407.7,227.9 L408.4,228.7 L409.0,229.6 L409.7,230.5 L410.4,231.3 L411.1,232.1 L411.8,233.0 L412.5,233.8 L413.2,234.6 L413.9,235.3 L414.7,236.1 L415.5,236.8 L416.2,237.6 L417.0,238.3" stroke="#00c800" stroke-dasharray="13 2.4 1.6 2 1.6 2.4"/>
</g>
<g style="opacity:0.999;filter:grayscale(1)">
<text transform="translate(75.80,284.10) scale(0.980,1.000)">0</text>
<text transform="translate(127.58,284.10) scale(0.980,1.000)">60</text>
<text transform="translate(178.93,284.10) scale(0.980,1.000)">120</text>
<text transform="translate(235.61,284.10) scale(0.980,1.000)">180</text>
<text transform="translate(292.68,284.10) scale(0.980,1.000)">240</text>
<text transform="translate(349.37,284.10) scale(0.980,1.000)">300</text>
<text transform="translate(406.05,284.10) scale(0.980,1.000)">360</text>
<text transform="translate(54.14,263.40) scale(1.071,1.007)">0</text>
<text transform="translate(52.85,228.33) scale(1.268,1.030)">1</text>
<text transform="translate(53.99,193.06) scale(1.125,1.030)">2</text>
<text transform="translate(54.02,157.58) scale(1.084,1.015)">3</text>
<text transform="translate(54.61,122.51) scale(0.968,1.030)">4</text>
<text transform="translate(53.65,87.04) scale(1.125,1.023)">5</text>
<text transform="translate(54.16,51.77) scale(1.047,1.015)">6</text>
<text transform="translate(53.56,16.70) scale(1.111,1.038)">7</text>
<text transform="translate(105.31,57.69) scale(0.988,1.049)" font-style="italic">θ</text>
<text transform="translate(115.25,61.40) scale(0.732,0.788)">1</text>
<text transform="translate(135.51,59.64) scale(1.387,0.960)">=</text>
<text transform="translate(155.86,58.00) scale(1.059,1.000)">90</text>
<text transform="translate(176.96,57.07) scale(1.049,1.066)">°</text>
<text transform="translate(105.31,80.59) scale(0.988,1.049)" font-style="italic">θ</text>
<text transform="translate(116.89,84.70) scale(0.903,0.817)" font-style="italic">N</text>
<text transform="translate(136.66,82.54) scale(1.441,0.960)">=</text>
<text transform="translate(157.70,80.90) scale(1.000,1.000)">60</text>
<text transform="translate(177.64,79.97) scale(1.066,1.066)">°</text>
<text transform="translate(384.64,36.31) scale(0.961,1.159)">(</text>
<text transform="translate(391.80,35.30) scale(0.851,0.993)" font-style="italic">b</text>
<text transform="translate(400.68,36.31) scale(1.038,1.159)">)</text>
<text transform="translate(212.32,310.48) scale(0.976,1.077)" font-style="italic">θ</text>
<text transform="translate(222.26,315.00) scale(0.825,0.826)">2</text>
<text transform="translate(238.41,311.51) scale(0.765,1.159)">(</text>
<text transform="translate(244.17,311.41) scale(1.043,1.137)">deg</text>
<text transform="translate(275.05,311.51) scale(0.750,1.159)">)</text>
</g>
<g transform="translate(34.4,208.5) rotate(-90)" style="opacity:0.999;filter:grayscale(1);stroke-width:0.45px">
<text transform="translate(-0.22,0.08) scale(1.059,1.104)">TDCS</text>
<text transform="translate(59.43,-0.10) scale(1.078,1.093)">(</text>
<text transform="translate(68.30,0.08) scale(1.033,1.085)">b</text>
<text transform="translate(79.00,4.30) scale(1.891,1.485)">/</text>
<text transform="translate(89.38,0.10) scale(1.022,1.000)">sr</text>
<text transform="translate(104.29,-9.40) scale(0.787,0.727)">2</text>
<text transform="translate(118.44,-0.03) scale(0.951,1.104)">eV</text>
<text transform="translate(141.78,-0.10) scale(1.038,1.093)">)</text>
</g>
</svg>
</body></html>
